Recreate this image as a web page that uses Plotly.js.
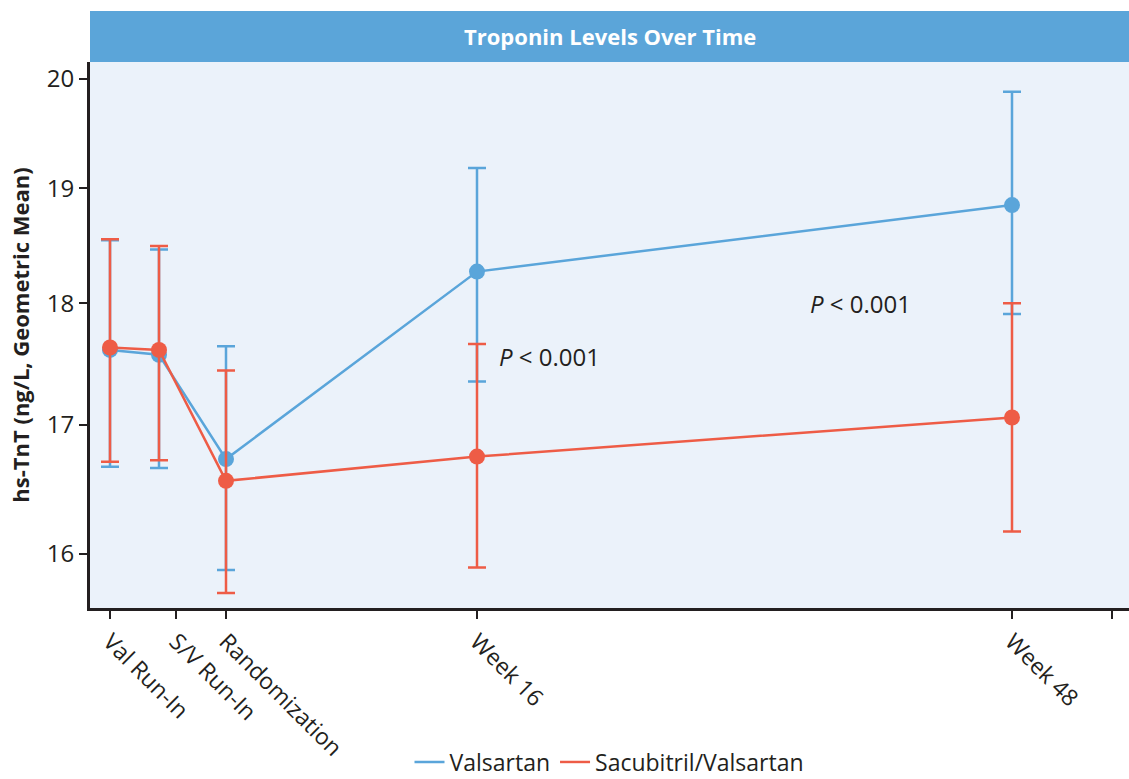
<!DOCTYPE html>
<html>
<head>
<meta charset="utf-8">
<script src="https://cdn.plot.ly/plotly-3.0.1.min.js"></script>
<style>html,body{margin:0;padding:0;background:#fff;}#chart{width:1129px;height:779px;}</style>
</head>
<body>
<div id="chart"></div>
<script>
// Time points (x positions on the chart's own timeline scale)
const timepoints = ["Val Run-In", "S/V Run-In", "Randomization", "Week 16", "Week 48"];
const pointX = [20, 69, 136, 387, 922];
const tickX = [20, 86, 136, 387, 922, 1022];
const tickLabels = ["Val Run-In", "S/V Run-In", "Randomization", "Week 16", "Week 48", ""];

// hs-TnT geometric means and 95% CI bounds (ng/L)
const valMean  = [17.61, 17.57, 16.73, 18.27, 18.85];
const valUpper = [18.54, 18.46, 17.64, 19.18, 19.88];
const valLower = [16.67, 16.66, 15.88, 17.35, 17.91];

const svMean  = [17.63, 17.61, 16.56, 16.75, 17.06];
const svUpper = [18.55, 18.49, 17.44, 17.66, 18.00];
const svLower = [16.71, 16.72, 15.71, 15.90, 16.17];

const yTicks = [16, 17, 18, 19, 20];

const BLUE = "#5aa5da";
const RED = "#ee5c46";
const DARK = "#231f20";
const FONT = "'Open Sans', 'Noto Sans', sans-serif";

function series(name, mean, upper, lower, color) {
  return {
    type: "scatter", mode: "lines+markers", name: name, showlegend: false,
    x: pointX, y: mean,
    line: {color: color, width: 2.5},
    marker: {color: color, size: 16},
    error_y: {
      type: "data", symmetric: false,
      array: upper.map((u, i) => u - mean[i]),
      arrayminus: lower.map((l, i) => mean[i] - l),
      color: color, thickness: 2.5, width: 9
    },
    hoverinfo: "skip"
  };
}
function legendItem(name, color) {
  return {type: "scatter", mode: "lines", name: name, x: [null], y: [null],
          line: {color: color, width: 2.5}, showlegend: true};
}

const data = [
  series("Valsartan", valMean, valUpper, valLower, BLUE),
  series("Sacubitril/Valsartan", svMean, svUpper, svLower, RED),
  legendItem("Valsartan", BLUE),
  legendItem("Sacubitril/Valsartan", RED)
];

const plotH = 608 - 62;
const layout = {
  width: 1129, height: 779,
  margin: {l: 90, r: 0, t: 62, b: 171, pad: 0, autoexpand: false},
  paper_bgcolor: "#ffffff",
  plot_bgcolor: "#ebf2fa",
  font: {family: FONT, color: DARK},
  showlegend: true,
  legend: {orientation: "h", x: 0.5, xanchor: "center", y: -(762 - 608) / plotH, yanchor: "middle",
           font: {size: 23, color: DARK}, bgcolor: "rgba(0,0,0,0)", tracegroupgap: 0},
  xaxis: {
    range: [0, 1039], showgrid: false, zeroline: false, automargin: false,
    showline: true, linecolor: DARK, linewidth: 3,
    tickmode: "array", tickvals: tickX, ticktext: tickLabels,
    ticks: "outside", ticklen: 8, tickwidth: 2, tickcolor: DARK,
    tickangle: 45, tickfont: {size: 23, color: DARK, family: FONT}
  },
  yaxis: {
    type: "log", range: [Math.log10(15.60), Math.log10(20.16)],
    showgrid: false, zeroline: false, automargin: false,
    showline: true, linecolor: DARK, linewidth: 3,
    tickmode: "array", tickvals: yTicks, ticktext: yTicks.map(String),
    ticks: "outside", ticklen: 8, tickwidth: 2, tickcolor: DARK,
    tickfont: {size: 24, color: DARK, family: FONT},
    title: {text: "<b>hs-TnT (ng/L, Geometric Mean)</b>", font: {size: 22, color: DARK, family: FONT}, standoff: 12}
  },
  shapes: [{
    type: "rect", xref: "paper", yref: "paper", x0: 0, x1: 1, y0: 1, y1: 1 + (62 - 11) / plotH,
    fillcolor: "#5ba5d9", line: {width: 0}, layer: "above"
  }],
  annotations: [
    {xref: "paper", yref: "paper", x: 0.5, y: 1 + (62 - 36) / plotH, xanchor: "center", yanchor: "middle",
     text: "<b>Troponin Levels Over Time</b>", showarrow: false, font: {size: 22, color: "#ffffff", family: FONT}},
    {x: 407, y: Math.log10(17.56), xanchor: "left", yanchor: "middle", showarrow: false,
     text: "<i>P</i> &lt; 0.001", font: {size: 24, color: DARK, family: FONT}},
    {x: 718, y: Math.log10(18.0), xanchor: "left", yanchor: "middle", showarrow: false,
     text: "<i>P</i> &lt; 0.001", font: {size: 24, color: DARK, family: FONT}}
  ]
};

Plotly.newPlot("chart", data, layout, {displayModeBar: false, staticPlot: true});
</script>
</body>
</html>
